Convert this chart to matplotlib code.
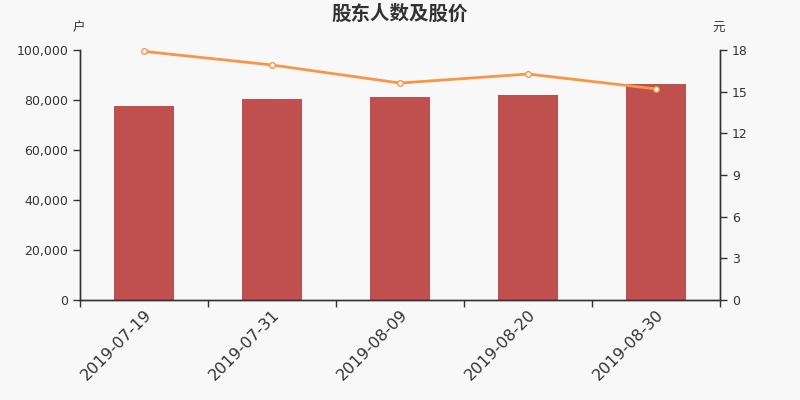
import matplotlib
matplotlib.use("Agg")
import matplotlib.pyplot as plt
import numpy as np
from matplotlib.ticker import FuncFormatter, MultipleLocator

plt.rcParams['font.family'] = ['DejaVu Sans', 'Noto Sans CJK SC']

dates = ["2019-07-19", "2019-07-31", "2019-08-09", "2019-08-20", "2019-08-30"]
holders = [77700, 80600, 81200, 82200, 86500]
prices = [17.9, 16.92, 15.62, 16.27, 15.2]

title = "股东人数及股价"
left_unit = "户"
right_unit = "元"

bg = "#f8f8f8"
bar_color = "#c0504d"
line_color = "#f79646"
txt = "#333333"

fig = plt.figure(figsize=(8, 4), dpi=100, facecolor=bg)
ax = fig.add_axes([0.1, 0.25, 0.8, 0.625])
ax.set_facecolor(bg)
x = np.arange(len(dates))
ax.bar(x, holders, width=0.47, color=bar_color, zorder=2)
ax.set_xlim(-0.5, len(dates) - 0.5)
ax.set_ylim(0, 100000)
ax.yaxis.set_major_locator(MultipleLocator(20000))
ax.yaxis.set_major_formatter(FuncFormatter(lambda v, p: f"{int(v):,}"))

ax2 = ax.twinx()
ax2.plot(x, prices, color=line_color, lw=2, marker='o', ms=4,
         mfc='white', mec=line_color, mew=1, zorder=3, clip_on=False)
ax2.set_ylim(0, 18)
ax2.yaxis.set_major_locator(MultipleLocator(3))

for a in (ax, ax2):
    a.spines["top"].set_visible(False)
    for s in ("left", "right", "bottom"):
        a.spines[s].set_color(txt)
        a.spines[s].set_linewidth(1)
    a.tick_params(axis='y', colors=txt, labelsize=9, length=5, width=1, labelcolor=txt)

ax.set_xticks(np.arange(-0.5, len(dates), 1.0))
ax.set_xticklabels([])
ax.set_xticks(x, minor=True)
ax.set_xticklabels(dates, minor=True, rotation=45, ha='right', rotation_mode='anchor',
                   fontsize=11.5, color=txt)
ax.tick_params(axis='x', which='major', length=5, width=1, colors=txt)
ax.tick_params(axis='x', which='minor', length=0, pad=5)

fig.text(0.5, 0.965, title, ha='center', va='center', fontsize=14, fontweight='bold',
         color=txt, family=['Noto Sans CJK SC'])
fig.text(0.098, 0.93, left_unit, ha='center', va='center', fontsize=9, color=txt,
         family=['Noto Sans CJK SC'])
fig.text(0.898, 0.93, right_unit, ha='center', va='center', fontsize=9, color=txt,
         family=['Noto Sans CJK SC'])

fig.savefig("out.png", dpi=100, facecolor=bg)
